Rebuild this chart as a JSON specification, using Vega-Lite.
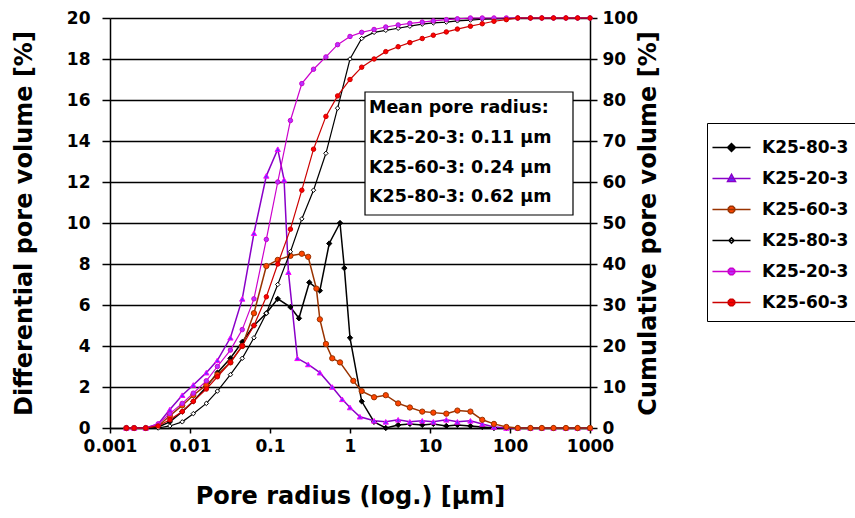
{
  "$schema": "https://vega.github.io/schema/vega-lite/v6.json",
  "width": 480,
  "height": 410,
  "autosize": "none",
  "padding": {"left": 110, "top": 18, "right": 265, "bottom": 90},
  "background": "white",
  "config": {
    "view": {"stroke": null},
    "font": "DejaVu Sans",
    "axis": {
      "domainColor": "black", "domainWidth": 1.5, "tickColor": "black", "tickWidth": 1.5,
      "labelColor": "black", "titleColor": "black", "labelFont": "DejaVu Sans", "labelFontWeight": "bold",
      "labelFontSize": 17, "titleFont": "DejaVu Sans", "titleFontWeight": "bold", "titleFontSize": 24,
      "labelFlush": false, "labelOverlap": false
    }
  },
  "data": {"values": [
    {"s":"d80","r":0.0016,"v":0},{"s":"d80","r":0.002,"v":0},{"s":"d80","r":0.0028,"v":0},{"s":"d80","r":0.004,"v":0.05},{"s":"d80","r":0.0056,"v":0.3},{"s":"d80","r":0.008,"v":0.8},{"s":"d80","r":0.011,"v":1.3},{"s":"d80","r":0.016,"v":2.0},{"s":"d80","r":0.022,"v":2.7},{"s":"d80","r":0.032,"v":3.4},{"s":"d80","r":0.045,"v":4.2},{"s":"d80","r":0.063,"v":5.0},{"s":"d80","r":0.09,"v":5.6},{"s":"d80","r":0.125,"v":6.3},{"s":"d80","r":0.18,"v":5.9},{"s":"d80","r":0.23,"v":5.35},{"s":"d80","r":0.31,"v":7.1},{"s":"d80","r":0.42,"v":6.7},{"s":"d80","r":0.55,"v":9.0},{"s":"d80","r":0.75,"v":10.0},{"s":"d80","r":0.85,"v":7.8},{"s":"d80","r":1,"v":4.4},{"s":"d80","r":1.4,"v":1.3},{"s":"d80","r":2,"v":0.3},{"s":"d80","r":2.8,"v":0},{"s":"d80","r":4,"v":0.15},{"s":"d80","r":5.6,"v":0.2},{"s":"d80","r":8,"v":0.15},{"s":"d80","r":11,"v":0.2},{"s":"d80","r":16,"v":0.1},{"s":"d80","r":22,"v":0.15},{"s":"d80","r":32,"v":0.1},{"s":"d80","r":45,"v":0.05},{"s":"d80","r":63,"v":0},{"s":"d80","r":90,"v":0},{"s":"d80","r":125,"v":0},{"s":"d80","r":180,"v":0},{"s":"d80","r":250,"v":0},{"s":"d80","r":350,"v":0},{"s":"d80","r":500,"v":0},{"s":"d80","r":700,"v":0},{"s":"d80","r":1000,"v":0},

    {"s":"d20","r":0.0016,"v":0},{"s":"d20","r":0.002,"v":0},{"s":"d20","r":0.0028,"v":0},{"s":"d20","r":0.004,"v":0.2},{"s":"d20","r":0.0056,"v":0.9},{"s":"d20","r":0.008,"v":1.6},{"s":"d20","r":0.011,"v":2.1},{"s":"d20","r":0.016,"v":2.7},{"s":"d20","r":0.022,"v":3.3},{"s":"d20","r":0.032,"v":4.4},{"s":"d20","r":0.045,"v":6.3},{"s":"d20","r":0.063,"v":9.5},{"s":"d20","r":0.09,"v":12.3},{"s":"d20","r":0.125,"v":13.6},{"s":"d20","r":0.15,"v":12.1},{"s":"d20","r":0.17,"v":7.6},{"s":"d20","r":0.22,"v":3.4},{"s":"d20","r":0.3,"v":3.1},{"s":"d20","r":0.42,"v":2.7},{"s":"d20","r":0.6,"v":2.0},{"s":"d20","r":0.8,"v":1.4},{"s":"d20","r":1,"v":1.0},{"s":"d20","r":1.33,"v":0.55},{"s":"d20","r":2,"v":0.35},{"s":"d20","r":2.8,"v":0.3},{"s":"d20","r":4,"v":0.4},{"s":"d20","r":5.6,"v":0.3},{"s":"d20","r":8,"v":0.35},{"s":"d20","r":11,"v":0.3},{"s":"d20","r":16,"v":0.4},{"s":"d20","r":22,"v":0.3},{"s":"d20","r":32,"v":0.35},{"s":"d20","r":45,"v":0.2},{"s":"d20","r":63,"v":0.05},{"s":"d20","r":90,"v":0},{"s":"d20","r":125,"v":0},{"s":"d20","r":180,"v":0},{"s":"d20","r":250,"v":0},{"s":"d20","r":350,"v":0},{"s":"d20","r":500,"v":0},{"s":"d20","r":700,"v":0},{"s":"d20","r":1000,"v":0},

    {"s":"d60","r":0.0016,"v":0},{"s":"d60","r":0.002,"v":0},{"s":"d60","r":0.0028,"v":0},{"s":"d60","r":0.004,"v":0.1},{"s":"d60","r":0.0056,"v":0.6},{"s":"d60","r":0.008,"v":1.1},{"s":"d60","r":0.011,"v":1.6},{"s":"d60","r":0.016,"v":2.1},{"s":"d60","r":0.022,"v":2.6},{"s":"d60","r":0.032,"v":3.2},{"s":"d60","r":0.045,"v":4.0},{"s":"d60","r":0.063,"v":5.6},{"s":"d60","r":0.09,"v":7.9},{"s":"d60","r":0.125,"v":8.2},{"s":"d60","r":0.18,"v":8.4},{"s":"d60","r":0.25,"v":8.5},{"s":"d60","r":0.3,"v":8.35},{"s":"d60","r":0.38,"v":6.8},{"s":"d60","r":0.42,"v":5.3},{"s":"d60","r":0.5,"v":4.1},{"s":"d60","r":0.6,"v":3.4},{"s":"d60","r":0.75,"v":3.2},{"s":"d60","r":1.1,"v":2.3},{"s":"d60","r":1.4,"v":1.8},{"s":"d60","r":2,"v":1.5},{"s":"d60","r":2.8,"v":1.6},{"s":"d60","r":4,"v":1.2},{"s":"d60","r":5.6,"v":1.0},{"s":"d60","r":8,"v":0.8},{"s":"d60","r":11,"v":0.75},{"s":"d60","r":16,"v":0.7},{"s":"d60","r":22,"v":0.85},{"s":"d60","r":32,"v":0.8},{"s":"d60","r":45,"v":0.4},{"s":"d60","r":63,"v":0.2},{"s":"d60","r":90,"v":0.05},{"s":"d60","r":125,"v":0},{"s":"d60","r":180,"v":0},{"s":"d60","r":250,"v":0},{"s":"d60","r":350,"v":0},{"s":"d60","r":500,"v":0},{"s":"d60","r":700,"v":0},{"s":"d60","r":1000,"v":0},

    {"s":"c80","r":0.0016,"v":0},{"s":"c80","r":0.002,"v":0},{"s":"c80","r":0.0028,"v":0},{"s":"c80","r":0.004,"v":0},{"s":"c80","r":0.0056,"v":0.5},{"s":"c80","r":0.008,"v":1.5},{"s":"c80","r":0.011,"v":3.5},{"s":"c80","r":0.016,"v":6},{"s":"c80","r":0.022,"v":9},{"s":"c80","r":0.032,"v":13},{"s":"c80","r":0.045,"v":17},{"s":"c80","r":0.063,"v":22},{"s":"c80","r":0.09,"v":28},{"s":"c80","r":0.125,"v":35},{"s":"c80","r":0.18,"v":43},{"s":"c80","r":0.25,"v":51},{"s":"c80","r":0.35,"v":58},{"s":"c80","r":0.5,"v":67},{"s":"c80","r":0.7,"v":78},{"s":"c80","r":1,"v":90},{"s":"c80","r":1.4,"v":95},{"s":"c80","r":2,"v":96.5},{"s":"c80","r":2.8,"v":97},{"s":"c80","r":4,"v":97.5},{"s":"c80","r":5.6,"v":98},{"s":"c80","r":8,"v":98.5},{"s":"c80","r":11,"v":98.8},{"s":"c80","r":16,"v":99},{"s":"c80","r":22,"v":99.3},{"s":"c80","r":32,"v":99.5},{"s":"c80","r":45,"v":99.7},{"s":"c80","r":63,"v":99.8},{"s":"c80","r":90,"v":99.9},{"s":"c80","r":125,"v":100},{"s":"c80","r":180,"v":100},{"s":"c80","r":250,"v":100},{"s":"c80","r":350,"v":100},{"s":"c80","r":500,"v":100},{"s":"c80","r":700,"v":100},{"s":"c80","r":1000,"v":100},

    {"s":"c20","r":0.0016,"v":0},{"s":"c20","r":0.002,"v":0},{"s":"c20","r":0.0028,"v":0},{"s":"c20","r":0.004,"v":1},{"s":"c20","r":0.0056,"v":3.5},{"s":"c20","r":0.008,"v":6},{"s":"c20","r":0.011,"v":8.5},{"s":"c20","r":0.016,"v":11.5},{"s":"c20","r":0.022,"v":15},{"s":"c20","r":0.032,"v":19},{"s":"c20","r":0.045,"v":24},{"s":"c20","r":0.063,"v":31.5},{"s":"c20","r":0.09,"v":46},{"s":"c20","r":0.125,"v":60},{"s":"c20","r":0.18,"v":75},{"s":"c20","r":0.25,"v":84},{"s":"c20","r":0.35,"v":87.5},{"s":"c20","r":0.5,"v":90.5},{"s":"c20","r":0.7,"v":93.5},{"s":"c20","r":1,"v":95.5},{"s":"c20","r":1.4,"v":96.5},{"s":"c20","r":2,"v":97.2},{"s":"c20","r":2.8,"v":97.8},{"s":"c20","r":4,"v":98.3},{"s":"c20","r":5.6,"v":98.7},{"s":"c20","r":8,"v":99},{"s":"c20","r":11,"v":99.3},{"s":"c20","r":16,"v":99.6},{"s":"c20","r":22,"v":99.8},{"s":"c20","r":32,"v":100},{"s":"c20","r":45,"v":100},{"s":"c20","r":63,"v":100},{"s":"c20","r":90,"v":100},{"s":"c20","r":125,"v":100},{"s":"c20","r":180,"v":100},{"s":"c20","r":250,"v":100},{"s":"c20","r":350,"v":100},{"s":"c20","r":500,"v":100},{"s":"c20","r":700,"v":100},{"s":"c20","r":1000,"v":100},

    {"s":"c60","r":0.0016,"v":0},{"s":"c60","r":0.002,"v":0},{"s":"c60","r":0.0028,"v":0},{"s":"c60","r":0.004,"v":0.5},{"s":"c60","r":0.0056,"v":2},{"s":"c60","r":0.008,"v":4},{"s":"c60","r":0.011,"v":6.5},{"s":"c60","r":0.016,"v":9.5},{"s":"c60","r":0.022,"v":12.5},{"s":"c60","r":0.032,"v":16},{"s":"c60","r":0.045,"v":20},{"s":"c60","r":0.063,"v":25},{"s":"c60","r":0.09,"v":32},{"s":"c60","r":0.125,"v":40},{"s":"c60","r":0.18,"v":48.5},{"s":"c60","r":0.25,"v":58},{"s":"c60","r":0.35,"v":68},{"s":"c60","r":0.5,"v":76},{"s":"c60","r":0.7,"v":81},{"s":"c60","r":1,"v":85},{"s":"c60","r":1.4,"v":88},{"s":"c60","r":2,"v":90},{"s":"c60","r":2.8,"v":91.8},{"s":"c60","r":4,"v":93},{"s":"c60","r":5.6,"v":94},{"s":"c60","r":8,"v":95},{"s":"c60","r":11,"v":95.8},{"s":"c60","r":16,"v":96.6},{"s":"c60","r":22,"v":97.3},{"s":"c60","r":32,"v":98},{"s":"c60","r":45,"v":98.6},{"s":"c60","r":63,"v":99.2},{"s":"c60","r":90,"v":99.6},{"s":"c60","r":125,"v":100},{"s":"c60","r":180,"v":100},{"s":"c60","r":250,"v":100},{"s":"c60","r":350,"v":100},{"s":"c60","r":500,"v":100},{"s":"c60","r":700,"v":100},{"s":"c60","r":1000,"v":100}
  ]},
  "layer": [
    {
      "transform": [{"filter": "datum.s[0] === 'd'"}],
      "encoding": {
        "x": {"field": "r", "type": "quantitative", "scale": {"type": "log", "domain": [0.001, 1000], "nice": false},
              "axis": {"values": [0.001, 0.01, 0.1, 1, 10, 100, 1000], "format": "~g", "grid": false, "tickSize": 5, "labelPadding": 5, "title": "Pore radius (log.) [µm]", "titlePadding": 30}},
        "y": {"field": "v", "type": "quantitative", "scale": {"domain": [0, 20], "nice": false},
              "axis": {"orient": "left", "values": [0,2,4,6,8,10,12,14,16,18,20], "tickSize": 8, "labelPadding": 12, "grid": true, "gridColor": "black", "gridWidth": 1.3, "gridOpacity": 1, "title": "Differential pore volume [%]", "titlePadding": 30}}
      },
      "layer": [
        {
          "mark": {"type": "line", "strokeWidth": 1.5},
          "encoding": {
            "color": {"field": "s", "type": "nominal",
              "scale": {"domain": ["d80","d20","d60","c80","c20","c60"], "range": ["#000000","#8a00c8","#993300","#000000","#cc00cc","#cc0000"]},
              "legend": {
                "title": null, "orient": "none", "legendX": 597, "legendY": 105,
                "strokeColor": "black", "fillColor": "white", "padding": 10,
                "labelFont": "DejaVu Sans", "labelFontSize": 17, "labelFontWeight": "bold", "labelColor": "black",
                "symbolSize": 729, "rowPadding": 8, "labelOffset": 16,
                "labelExpr": "'K25-' + slice(datum.value, 1) + '-3'",
                "encode": {"symbols": {"update": {
                  "shape": [
                    {"test": "datum.value === 'd80'", "value": "M-1.41,0H1.41M0,-0.3L0.3,0L0,0.3L-0.3,0Z"},
                    {"test": "datum.value === 'd20'", "value": "M-1.41,0H1.41M0,-0.32L0.3,0.22L-0.3,0.22Z"},
                    {"test": "datum.value === 'c80'", "value": "M-1.41,0H1.41M0,-0.2L0.2,0L0,0.2L-0.2,0Z"},
                    {"value": "M-1.41,0H1.41M0.24,0.1L0.1,0.24L-0.1,0.24L-0.24,0.1L-0.24,-0.1L-0.1,-0.24L0.1,-0.24L0.24,-0.1Z"}
                  ],
                  "fill": [
                    {"test": "datum.value === 'd80'", "value": "#000000"},
                    {"test": "datum.value === 'd20'", "value": "#6633ff"},
                    {"test": "datum.value === 'd60'", "value": "#ff4400"},
                    {"test": "datum.value === 'c80'", "value": "#ffffff"},
                    {"test": "datum.value === 'c20'", "value": "#b833ff"},
                    {"value": "#ff0000"}
                  ],
                  "stroke": [
                    {"test": "datum.value === 'd80' || datum.value === 'c80'", "value": "#000000"},
                    {"test": "datum.value === 'd20'", "value": "#8a00c8"},
                    {"test": "datum.value === 'd60'", "value": "#993300"},
                    {"test": "datum.value === 'c20'", "value": "#cc00cc"},
                    {"value": "#cc0000"}
                  ],
                  "strokeWidth": {"value": 1.4},
                  "opacity": {"value": 1}
                }}}
              }}
          }
        },
        {
          "mark": {"type": "point", "filled": true, "strokeWidth": 1, "opacity": 1},
          "encoding": {
            "shape": {"field": "s", "type": "nominal", "scale": {"range": ["circle","circle","diamond","triangle-up","circle","diamond"]}, "legend": null},
            "fill": {"field": "s", "type": "nominal", "scale": {"range": ["#b833ff","#ff0000","#ffffff","#6633ff","#ff4400","#000000"]}, "legend": null},
            "stroke": {"field": "s", "type": "nominal", "scale": {"range": ["#cc00cc","#cc0000","#000000","#ff00ff","#993300","#000000"]}, "legend": null},
            "size": {"value": 28}
          }
        }
      ]
    },
    {
      "transform": [{"filter": "datum.s[0] === 'c'"}],
      "encoding": {
        "x": {"field": "r", "type": "quantitative", "scale": {"type": "log", "domain": [0.001, 1000], "nice": false},
              "axis": {"values": [0.001, 0.01, 0.1, 1, 10, 100, 1000], "format": "~g", "grid": false, "tickSize": 5, "labelPadding": 5, "title": "Pore radius (log.) [µm]", "titlePadding": 30}},
        "y": {"field": "v", "type": "quantitative", "scale": {"domain": [0, 100], "nice": false},
              "axis": {"orient": "right", "values": [0,10,20,30,40,50,60,70,80,90,100], "tickSize": 7, "labelPadding": 5, "grid": false, "title": "Cumulative pore volume [%]", "titleAngle": 270, "titlePadding": 23}}
      },
      "layer": [
        {
          "mark": {"type": "line", "strokeWidth": 1.2},
          "encoding": {
            "color": {"field": "s", "type": "nominal", "legend": null}
          }
        },
        {
          "mark": {"type": "point", "filled": true, "strokeWidth": 1, "opacity": 1},
          "encoding": {
            "shape": {"field": "s", "type": "nominal", "legend": null},
            "fill": {"field": "s", "type": "nominal", "legend": null},
            "stroke": {"field": "s", "type": "nominal", "legend": null},
            "size": {"value": 20}
          }
        }
      ]
    },
    {
      "data": {"values": [{}]},
      "encoding": {
        "x": {"datum": 1.73, "type": "quantitative", "scale": {"type": "log", "domain": [0.001, 1000], "nice": false},
              "axis": {"values": [0.001, 0.01, 0.1, 1, 10, 100, 1000], "format": "~g", "grid": false, "tickSize": 5, "labelPadding": 5, "title": "Pore radius (log.) [µm]", "titlePadding": 30}}
      },
      "layer": [
        {
          "mark": {"type": "rect", "fill": "white", "stroke": "black", "strokeWidth": 1.2},
          "encoding": {
            "x": {"datum": 1.54, "type": "quantitative", "scale": {"type": "log", "domain": [0.001, 1000], "nice": false},
                  "axis": {"values": [0.001, 0.01, 0.1, 1, 10, 100, 1000], "format": "~g", "grid": false, "tickSize": 5, "labelPadding": 5, "title": "Pore radius (log.) [µm]", "titlePadding": 30}},
            "x2": {"datum": 613},
            "y": {"datum": 16.39, "type": "quantitative", "scale": {"domain": [0, 20], "nice": false}, "axis": null},
            "y2": {"datum": 10.39}
          }
        },
        {
          "mark": {"type": "text", "align": "left", "baseline": "middle", "font": "DejaVu Sans", "fontWeight": "bold", "fontSize": 17.5, "color": "black", "text": "Mean pore radius:"},
          "encoding": {"y": {"datum": 15.61, "type": "quantitative", "scale": {"domain": [0, 20], "nice": false}, "axis": null}}
        },
        {
          "mark": {"type": "text", "align": "left", "baseline": "middle", "font": "DejaVu Sans", "fontWeight": "bold", "fontSize": 17.5, "color": "black", "text": "K25-20-3: 0.11  µm"},
          "encoding": {"y": {"datum": 14.15, "type": "quantitative", "scale": {"domain": [0, 20], "nice": false}, "axis": null}}
        },
        {
          "mark": {"type": "text", "align": "left", "baseline": "middle", "font": "DejaVu Sans", "fontWeight": "bold", "fontSize": 17.5, "color": "black", "text": "K25-60-3: 0.24  µm"},
          "encoding": {"y": {"datum": 12.68, "type": "quantitative", "scale": {"domain": [0, 20], "nice": false}, "axis": null}}
        },
        {
          "mark": {"type": "text", "align": "left", "baseline": "middle", "font": "DejaVu Sans", "fontWeight": "bold", "fontSize": 17.5, "color": "black", "text": "K25-80-3: 0.62  µm"},
          "encoding": {"y": {"datum": 11.27, "type": "quantitative", "scale": {"domain": [0, 20], "nice": false}, "axis": null}}
        }
      ]
    }
  ],
  "resolve": {"scale": {"y": "independent"}}
}
